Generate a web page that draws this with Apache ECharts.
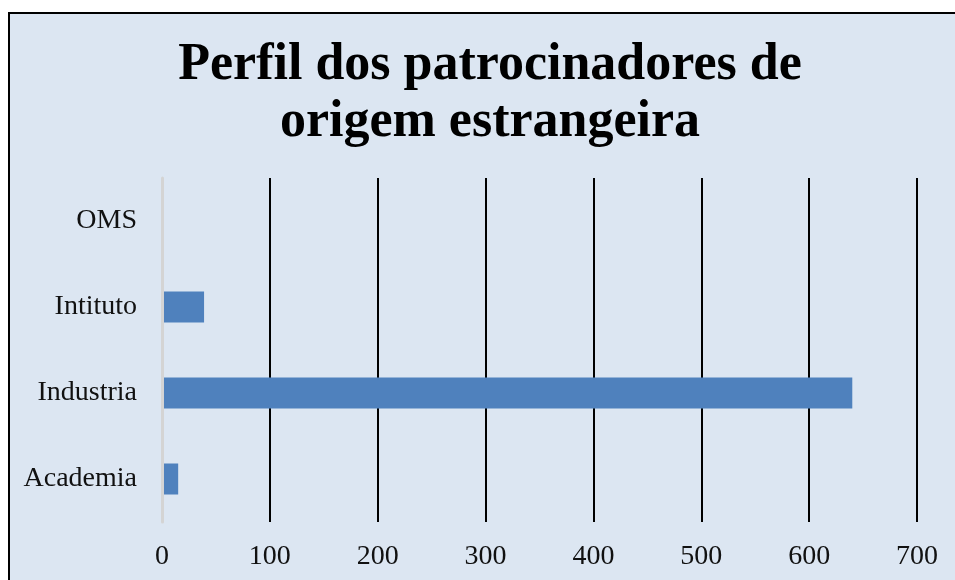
<!DOCTYPE html>
<html>
<head>
<meta charset="utf-8">
<script src="https://cdn.jsdelivr.net/npm/echarts@6/dist/echarts.min.js"></script>
<style>
html, body { margin: 0; padding: 0; background: #fff; overflow: hidden; }
.box {
    position: absolute; left: 8px; top: 12px; width: 960px; height: 580px;
    background: #dce6f2; border-left: 2px solid #000; border-top: 2px solid #000;
}
#chart { position: absolute; left: 0; top: 0; width: 955px; height: 580px; }
</style>
</head>
<body>
<div class="box"></div>
<div id="chart"></div>
<script>
// categories top to bottom
const categories = ["OMS", "Intituto", "Industria", "Academia"]
const values = [1, 39, 640, 15]
const xTicks = [0, 100, 200, 300, 400, 500, 600, 700]

const serif = "'Liberation Serif', 'DejaVu Serif', serif"

const chart = echarts.init(document.getElementById("chart"))
chart.setOption({
    animation: false,
    title: {
        text: "Perfil dos patrocinadores de\norigem estrangeira",
        left: 485,
        top: 32,
        textAlign: "center",
        textStyle: {
            fontFamily: serif,
            fontWeight: "bold",
            fontSize: 52,
            lineHeight: 57,
            color: "#000"
        }
    },
    grid: {
        left: 162,
        right: 38,
        top: 178,
        bottom: 58,
        containLabel: false
    },
    xAxis: {
        type: "value",
        min: xTicks[0],
        max: xTicks[xTicks.length - 1],
        interval: 100,
        axisLine: { show: false },
        axisTick: { show: false },
        axisLabel: {
            margin: 21,
            fontFamily: serif,
            fontSize: 28,
            color: "#111"
        },
        splitLine: {
            show: true,
            lineStyle: { color: "#000", width: 2 }
        }
    },
    yAxis: {
        type: "category",
        inverse: true,
        data: categories,
        z: 10,
        axisLine: {
            show: true,
            lineStyle: { color: "#d4d4d4", width: 3 }
        },
        axisTick: { show: false },
        axisLabel: {
            margin: 25,
            fontFamily: serif,
            fontSize: 28,
            color: "#111",
            padding: [4, 0, 0, 0]
        }
    },
    series: [{
        type: "bar",
        data: values,
        barWidth: 31,
        itemStyle: { color: "#4f81bd" }
    }]
})
</script>
</body>
</html>
